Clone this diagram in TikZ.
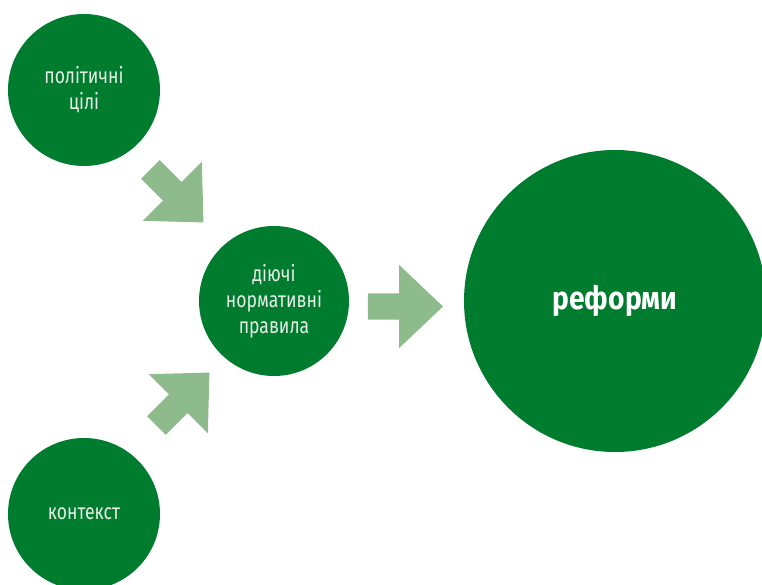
\documentclass[tikz,border=0pt]{standalone}
\usepackage{fontspec}
\setmainfont{Fira Sans}[FakeStretch=0.8, BoldFeatures={FakeStretch=0.88}]
\usetikzlibrary{shapes.arrows}

\definecolor{leafgreen}{HTML}{007C2F}
\definecolor{sagegreen}{HTML}{8EBB8B}
\definecolor{paletext}{HTML}{E6EEE6}

\tikzset{
    bubble/.style={circle, fill=leafgreen, inner sep=0pt, align=center,
        text=paletext, font=\fontsize{22}{26}\selectfont},
    blockarrow/.style={single arrow, fill=sagegreen, inner xsep=0pt, inner ysep=13pt,
        minimum height=75pt, minimum width=83pt,
        single arrow head extend=28.5pt, single arrow tip angle=87}
}

\begin{document}
\begin{tikzpicture}[x=1pt, y=-1pt]
        \clip (0, 0) rectangle (762, 585);

        % circles
        \node[bubble, minimum size=152pt] (goals) at (84, 90) {політичні\\цілі};
        \node[bubble, minimum size=152pt] (context) at (84, 514) {контекст};
        \node[bubble, minimum size=150pt] (rules) at (274, 301) {діючі\\нормативні\\правила};
        \node[bubble, minimum size=302pt, text=white,
            font=\bfseries\fontsize{32}{38}\selectfont] (reforms) at (615, 301) {реформи};

        % arrows
        \node[blockarrow, rotate=-45] (goalsarrow) at (172, 191) {};
        \node[blockarrow, rotate=45] (contextarrow) at (178, 404) {};
        \node[blockarrow] (rulesarrow) at (398.5, 306.5) {};
    \end{tikzpicture}
\end{document}
